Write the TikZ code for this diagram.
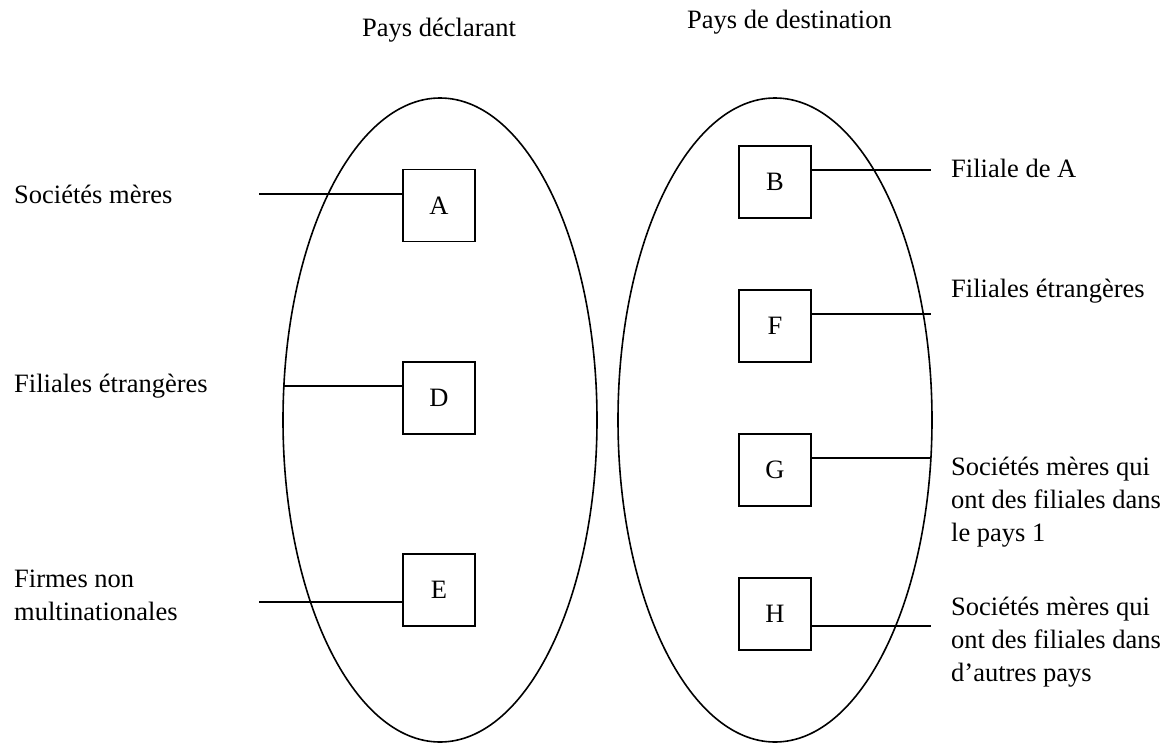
\documentclass[tikz,border=0pt]{standalone}
\usepackage{fontspec}
\setmainfont{Liberation Serif}
\usetikzlibrary{shapes.geometric}
\newcommand{\lbl}[1]{\begin{tabular}[t]{@{}l@{}}#1\end{tabular}}
\begin{document}
\begin{tikzpicture}[x=1pt,y=-1pt,
  every node/.style={font=\fontsize{26.5}{33}\selectfont},
  letterbox/.style={draw,line width=1.6pt,minimum width=72pt,minimum height=72pt,inner sep=0pt},
  country/.style={draw,ellipse,line width=1.6pt,minimum width=314pt,minimum height=644pt,inner sep=0pt},
  txt/.style={anchor=base west,inner sep=0pt},
  ttl/.style={anchor=base west,inner sep=0pt},
  link/.style={line width=1.6pt}]
\useasboundingbox (0,0) rectangle (1170,745);
% titles
\node[ttl] (t1) at (362,36) {Pays déclarant};
\node[ttl] (t2) at (687,28) {Pays de destination};
% ellipses
\node[country] (L) at (440,420) {};
\node[country] (R) at (775,420) {};
% boxes
\node[letterbox] (A) at (439,205.5) {A};
\node[letterbox] (D) at (439,398) {D};
\node[letterbox] (E) at (439,590) {E};
\node[letterbox] (B) at (775,182) {B};
\node[letterbox] (F) at (775,326) {F};
\node[letterbox] (G) at (775,470) {G};
\node[letterbox] (H) at (775,614) {H};
% left labels
\node[txt] (lA) at (14,203) {Sociétés mères};
\node[txt] (lD) at (14,392) {Filiales étrangères};
\node[txt] (lE) at (14,587) {\lbl{Firmes non\\multinationales}};
% right labels
\node[txt] (lB) at (951,177) {Filiale de A};
\node[txt] (lF) at (951,297) {Filiales étrangères};
\node[txt] (lG) at (951,475) {\lbl{Sociétés mères qui\\ont des filiales dans\\le pays 1}};
\node[txt] (lH) at (951,615) {\lbl{Sociétés mères qui\\ont des filiales dans\\d’autres pays}};
% connector ends
\coordinate (cA) at (259,194);
\coordinate (cD) at (283,386);
\coordinate (cE) at (259,602);
\coordinate (cB) at (931,170);
\coordinate (cF) at (931,314);
\coordinate (cG) at (931,458);
\coordinate (cH) at (931,626);
% connectors
\draw[link] (cA) -- (cA -| A.west);
\draw[link] (cD) -- (cD -| D.west);
\draw[link] (cE) -- (cE -| E.west);
\draw[link] (cB -| B.east) -- (cB);
\draw[link] (cF -| F.east) -- (cF);
\draw[link] (cG -| G.east) -- (cG);
\draw[link] (cH -| H.east) -- (cH);
\end{tikzpicture}
\end{document}
